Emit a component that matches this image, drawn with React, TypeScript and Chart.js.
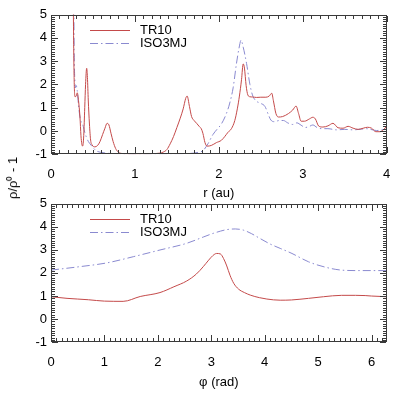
import React, { useEffect, useRef } from 'react';
import { Chart, registerables } from 'chart.js';

Chart.register(...registerables);

const FONT = "'Liberation Sans', Arial, Helvetica, sans-serif";
const SERIES = ['TR10', 'ISO3MJ'];
const COLORS = ['#c44a4a', '#8a8ad0'];
const DASHES: number[][] = [[], [8, 3, 1.5, 3]];

const R_TICKS = [0, 1, 2, 3, 4];
const PHI_TICKS = [0, 1, 2, 3, 4, 5, 6];
const Y_TICKS = [-1, 0, 1, 2, 3, 4, 5];
const MINOR_STEP = 0.1;

// top panel: density perturbation vs radius (r in au)
const TR10_R: [number, number][] = [
  [0.262, 8], [0.268, 4.5], [0.276, 2.2], [0.286, 1.47], [0.300, 1.5], [0.313, 1.64],
  [0.328, 1.3], [0.345, 0.6], [0.357, -0.2], [0.367, -0.55], [0.377, -0.65], [0.390, -0.2],
  [0.402, 1.0], [0.412, 2.0], [0.425, 2.69], [0.434, 2.3], [0.444, 1.33], [0.458, 0.3],
  [0.472, -0.39], [0.490, -0.6], [0.524, -0.68], [0.555, -0.62], [0.583, -0.46], [0.615, -0.15],
  [0.643, 0.12], [0.668, 0.33], [0.690, 0.26], [0.715, -0.1], [0.740, -0.45], [0.770, -0.75],
  [0.800, -0.9], [0.860, -0.97], [1.000, -0.98], [1.200, -0.97], [1.300, -0.95], [1.340, -0.9],
  [1.380, -0.8], [1.420, -0.55], [1.460, -0.24], [1.500, 0.15], [1.540, 0.55], [1.575, 0.95],
  [1.605, 1.4], [1.622, 1.5], [1.650, 1.05], [1.675, 0.62], [1.705, 0.45], [1.735, 0.33],
  [1.765, 0.2], [1.790, 0.1], [1.810, -0.1], [1.835, -0.5], [1.860, -0.65], [1.910, -0.62],
  [1.970, -0.5], [2.030, -0.4], [2.070, -0.24], [2.110, -0.05], [2.150, 0.1], [2.190, 0.45],
  [2.220, 0.95], [2.245, 1.5], [2.270, 2.2], [2.290, 2.88], [2.305, 2.7], [2.325, 1.95],
  [2.345, 1.55], [2.370, 1.47], [2.400, 1.46], [2.450, 1.44], [2.500, 1.45], [2.560, 1.45],
  [2.600, 1.5], [2.630, 1.62], [2.650, 1.3], [2.680, 0.75], [2.710, 0.6], [2.760, 0.62],
  [2.830, 0.75], [2.880, 0.9], [2.920, 1.07], [2.950, 0.75], [2.980, 0.42], [3.020, 0.42],
  [3.080, 0.52], [3.120, 0.59], [3.150, 0.52], [3.190, 0.21], [3.240, 0.17], [3.300, 0.22],
  [3.360, 0.33], [3.420, 0.14], [3.480, 0.12], [3.540, 0.2], [3.600, 0.12], [3.660, 0.07],
  [3.720, 0.12], [3.770, 0.16], [3.820, 0.12], [3.870, -0.03], [3.920, -0.03], [3.960, 0.05],
  [4.000, 0.21],
];

const ISO3MJ_R: [number, number][] = [
  [0.268, 8], [0.276, 3.5], [0.285, 2.1], [0.292, 1.85], [0.300, 1.95], [0.312, 1.75],
  [0.328, 1.1], [0.345, 0.6], [0.362, 0.35], [0.380, 0.25], [0.398, 0.0], [0.420, -0.25],
  [0.445, -0.45], [0.480, -0.62], [0.540, -0.85], [0.620, -0.93], [0.750, -0.97], [1.000, -0.98],
  [1.400, -0.98], [1.600, -0.97], [1.700, -0.95], [1.770, -0.9], [1.810, -0.85], [1.870, -0.55],
  [1.930, -0.15], [1.980, 0.08], [2.030, 0.3], [2.090, 0.75], [2.130, 1.2], [2.170, 1.85],
  [2.210, 2.9], [2.240, 3.55], [2.265, 3.9], [2.290, 3.6], [2.330, 2.9], [2.370, 2.0],
  [2.400, 1.55], [2.440, 1.3], [2.490, 1.2], [2.550, 1.05], [2.590, 0.7], [2.620, 0.47],
  [2.660, 0.4], [2.720, 0.45], [2.770, 0.45], [2.820, 0.35], [2.880, 0.28], [2.930, 0.35],
  [2.980, 0.25], [3.030, 0.15], [3.080, 0.2], [3.120, 0.26], [3.170, 0.15], [3.220, 0.1],
  [3.300, 0.1], [3.400, 0.05], [3.500, 0.07], [3.600, 0.05], [3.700, 0.08], [3.760, 0.1],
  [3.830, 0.05], [3.880, 0.02], [3.940, 0.05], [4.000, 0.12],
];

// bottom panel: density perturbation vs azimuth (phi in rad)
const TR10_PHI: [number, number][] = [
  [0, 0.97], [0.3, 0.9], [0.7, 0.84], [1.0, 0.78], [1.35, 0.77], [1.67, 0.98], [2.04, 1.15],
  [2.3, 1.4], [2.54, 1.65], [2.72, 1.95], [2.85, 2.27], [2.95, 2.55], [3.03, 2.75], [3.10, 2.84],
  [3.17, 2.82], [3.23, 2.62], [3.29, 2.3], [3.35, 1.9], [3.42, 1.55], [3.51, 1.3], [3.62, 1.15],
  [3.73, 1.04], [3.9, 0.93], [4.04, 0.87], [4.29, 0.82], [4.5, 0.83], [4.82, 0.9], [5.1, 0.97],
  [5.44, 1.03], [5.7, 1.03], [5.88, 1.02], [6.0, 1.0], [6.283, 0.97],
];

const ISO3MJ_PHI: [number, number][] = [
  [0, 2.12], [0.54, 2.27], [1.04, 2.43], [1.54, 2.7], [2.04, 2.99], [2.54, 3.28], [2.85, 3.55],
  [3.05, 3.72], [3.29, 3.87], [3.45, 3.9], [3.6, 3.85], [3.75, 3.7], [3.91, 3.49], [4.1, 3.25],
  [4.29, 3.06], [4.51, 2.84], [4.82, 2.48], [5.13, 2.25], [5.44, 2.12], [5.75, 2.1], [6.283, 2.1],
];

const frameTicks = {
  id: 'frameTicks',
  afterDraw(chart: any) {
    const ctx: CanvasRenderingContext2D = chart.ctx;
    const a = chart.chartArea;
    const xs = chart.scales.x;
    const ys = chart.scales.y;
    const L = Math.round(a.left);
    const R = Math.round(a.right) - 1;
    const T = Math.round(a.top);
    const B = Math.round(a.bottom) - 1;
    ctx.save();
    ctx.fillStyle = '#3a3a3a';
    ctx.fillRect(L, T, R - L + 1, 1);
    ctx.fillRect(L, B, R - L + 1, 1);
    ctx.fillRect(L, T, 1, B - T + 1);
    ctx.fillRect(R, T, 1, B - T + 1);
    const xLo = Math.ceil(xs.min / MINOR_STEP - 1e-6);
    const xHi = Math.floor(xs.max / MINOR_STEP + 1e-6);
    for (let i = xLo; i <= xHi; i++) {
      const len = i % 10 === 0 ? 6 : 3;
      const p = Math.round(xs.getPixelForValue(i * MINOR_STEP));
      ctx.fillRect(p, B - len, 1, len);
      ctx.fillRect(p, T + 1, 1, len);
    }
    const yLo = Math.ceil(ys.min / MINOR_STEP - 1e-6);
    const yHi = Math.floor(ys.max / MINOR_STEP + 1e-6);
    for (let i = yLo; i <= yHi; i++) {
      const len = i % 10 === 0 ? 6 : 3;
      const p = Math.round(ys.getPixelForValue(i * MINOR_STEP));
      ctx.fillRect(L + 1, p, len, 1);
      ctx.fillRect(R - len, p, len, 1);
    }
    ctx.restore();
  },
};

const inlineLegend = {
  id: 'inlineLegend',
  afterDraw(chart: any) {
    const { ctx, chartArea: a } = chart;
    chart.data.datasets.forEach((ds: any, i: number) => {
      const y = Math.round(a.top + 15.5 + i * 13.3) + 0.5;
      ctx.save();
      ctx.strokeStyle = ds.borderColor;
      ctx.lineWidth = 1;
      ctx.setLineDash(ds.borderDash || []);
      ctx.beginPath();
      ctx.moveTo(a.left + 39, y);
      ctx.lineTo(a.left + 79, y);
      ctx.stroke();
      ctx.setLineDash([]);
      ctx.fillStyle = '#000';
      ctx.font = `13px ${FONT}`;
      ctx.textBaseline = 'middle';
      ctx.textAlign = 'left';
      ctx.fillText(ds.label, a.left + 89, y);
      ctx.restore();
    });
  },
};

function makeConfig(
  series: [number, number][][],
  xMax: number,
  xTicks: number[],
  xTitle: string,
  padTop: number,
  axisHeight: number,
  titlePadBottom: number,
): any {
  return {
    type: 'line',
    data: {
      datasets: series.map((pts, i) => ({
        label: SERIES[i],
        data: pts.map(([x, y]) => ({ x, y })),
        borderColor: COLORS[i],
        borderDash: DASHES[i],
        borderWidth: 1,
        pointRadius: 0,
        fill: false,
        cubicInterpolationMode: 'monotone',
      })),
    },
    options: {
      responsive: false,
      animation: false,
      devicePixelRatio: 1,
      layout: { padding: { left: 0, right: 28.3, top: padTop, bottom: 0 } },
      plugins: {
        legend: { display: false },
        tooltip: { enabled: false },
      },
      scales: {
        x: {
          type: 'linear',
          min: 0,
          max: xMax,
          grid: { display: false, drawTicks: false },
          border: { display: false },
          afterBuildTicks: (s: any) => { s.ticks = xTicks.map((v) => ({ value: v })); },
          afterFit: (s: any) => { s.height = axisHeight; },
          ticks: { color: '#000', padding: 12, maxRotation: 0, autoSkip: false, font: { family: FONT, size: 13 } },
          title: { display: true, text: xTitle, color: '#000', padding: { top: 0, bottom: titlePadBottom }, font: { family: FONT, size: 13 } },
        },
        y: {
          type: 'linear',
          min: -1,
          max: 5,
          grid: { display: false, drawTicks: false },
          border: { display: false },
          afterBuildTicks: (s: any) => { s.ticks = Y_TICKS.map((v) => ({ value: v })); },
          afterFit: (s: any) => { s.width = 51; },
          ticks: { color: '#000', padding: 4, autoSkip: false, font: { family: FONT, size: 13 } },
        },
      },
    },
    plugins: [frameTicks, inlineLegend],
  };
}

function Panel(props: { cfg: any; top: number; height: number }) {
  const ref = useRef<HTMLCanvasElement | null>(null);
  useEffect(() => {
    if (!ref.current) return;
    const chart = new Chart(ref.current, props.cfg);
    return () => chart.destroy();
  }, []);
  return (
    <canvas
      ref={ref}
      width={415}
      height={props.height}
      style={{ position: 'absolute', left: 0, top: props.top, width: 415, height: props.height }}
    />
  );
}

export default function App() {
  const topCfg = makeConfig([TR10_R, ISO3MJ_R], 4, R_TICKS, 'r (au)', 14.5, 46.7, 0);
  const botCfg = makeConfig([TR10_PHI, ISO3MJ_PHI], 2 * Math.PI, PHI_TICKS, 'φ (rad)', 15.5, 53.7, 6);
  return (
    <div style={{ position: 'absolute', left: 0, top: 0, width: 415, height: 396, background: '#fff', overflow: 'hidden' }}>
      <Panel cfg={topCfg} top={0} height={201} />
      <Panel cfg={botCfg} top={188} height={208} />
      <div
        style={{
          position: 'absolute',
          left: 12,
          top: 178,
          transform: 'translate(-50%, -50%) rotate(-90deg)',
          whiteSpace: 'nowrap',
          fontFamily: FONT,
          fontSize: 13,
          color: '#000',
        }}
      >
        ρ/ρ⁰ - 1
      </div>
    </div>
  );
}
